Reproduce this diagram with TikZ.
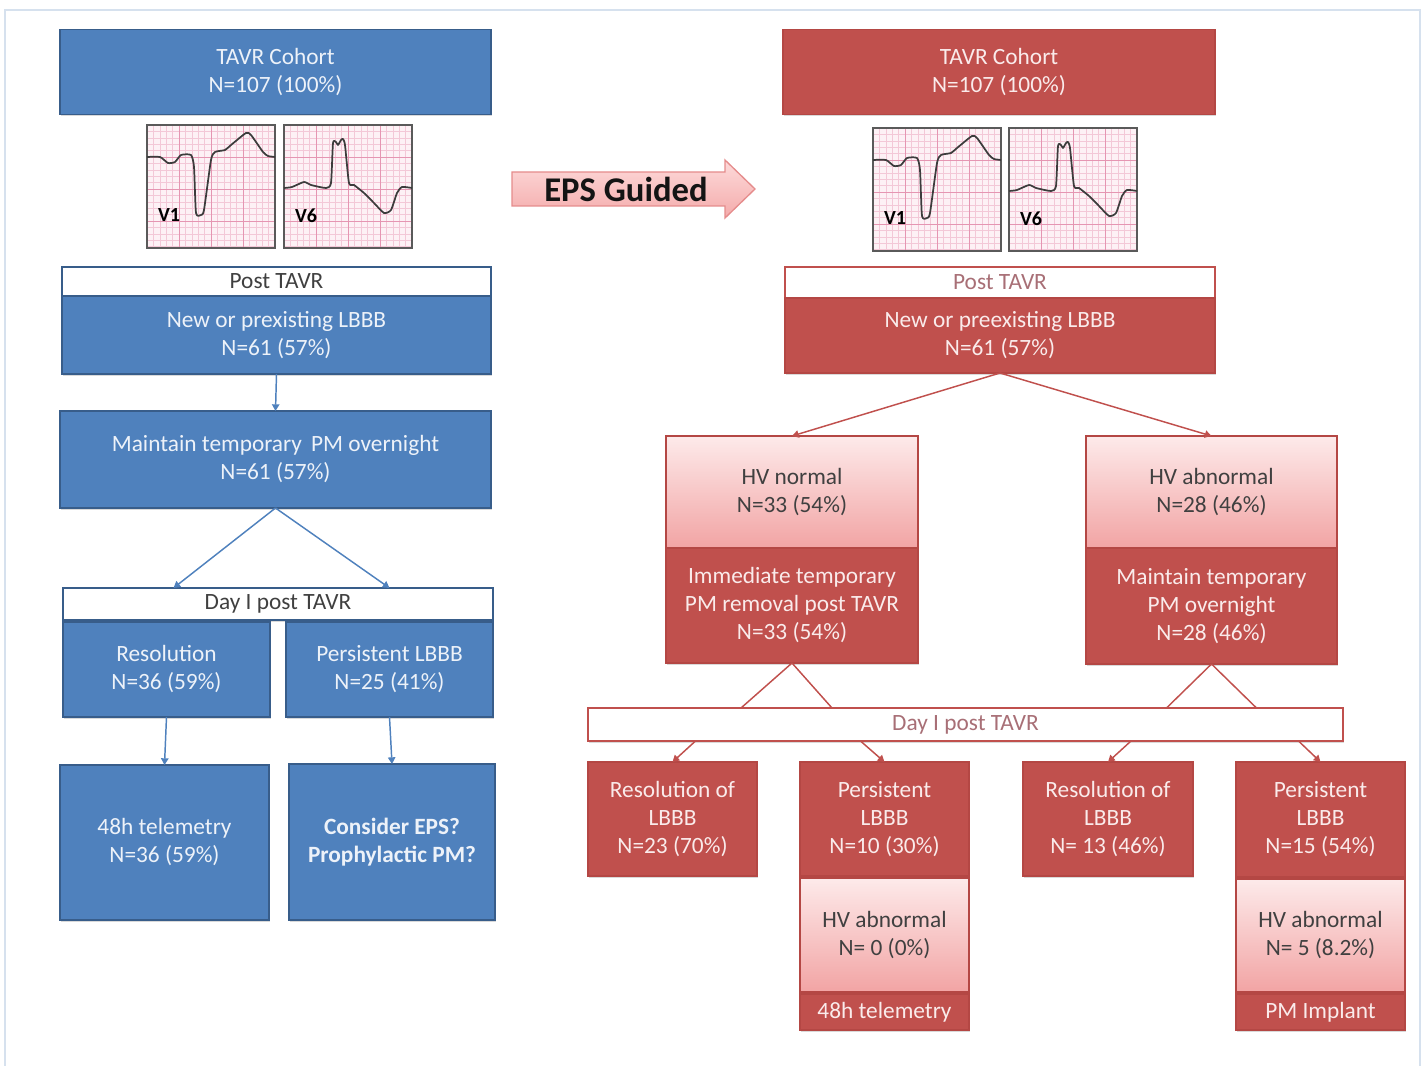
\documentclass[tikz,border=0pt]{standalone}
\usepackage{fontspec}
\setmainfont{Carlito}
\usetikzlibrary{arrows.meta,calc,shadows}

\definecolor{bluefill}{HTML}{4F81BD}
\definecolor{blueedge}{HTML}{385D8A}
\definecolor{bluetext}{HTML}{EDF2F9}
\definecolor{redfill}{HTML}{C0504D}
\definecolor{rededge}{HTML}{B44744}
\definecolor{redtext}{HTML}{FAEBEB}
\definecolor{hvtop}{HTML}{FDEAEA}
\definecolor{hvbottom}{HTML}{F2A4A4}
\definecolor{darktext}{HTML}{404040}
\definecolor{mauvetext}{HTML}{A86F76}
\definecolor{ecgpaper}{HTML}{FDF1F5}
\definecolor{ecgminor}{HTML}{F3C8D7}
\definecolor{ecgmajor}{HTML}{E596B2}
\definecolor{ecgframe}{HTML}{5A5A5A}
\definecolor{ecgtrace}{HTML}{3C3C3C}
\definecolor{frameline}{HTML}{D6E1EE}
\definecolor{epstop}{HTML}{FDDADA}
\definecolor{epsbottom}{HTML}{F4ABAB}
\definecolor{epsedge}{HTML}{E58C8C}

\tikzset{every picture/.style={line width=0.75pt}}

\tikzset{
  cell/.style args={#1/#2}{minimum width=#1*0.75pt, minimum height=#2*0.75pt},
  boxtext/.style={font=\fontsize{17.5}{21}\selectfont, align=center, inner sep=0pt, outer sep=0pt},
  boxshadow/.style={drop shadow={opacity=0.3, shadow xshift=0.8pt, shadow yshift=-1.5pt}},
  bluebox/.style={boxtext, boxshadow, draw=blueedge, fill=bluefill, text=bluetext, line width=1.2pt},
  bluehead/.style={boxtext, boxshadow, draw=blueedge, fill=white, text=darktext, line width=1.2pt},
  redbox/.style={boxtext, boxshadow, draw=rededge, fill=redfill, text=redtext, line width=1.2pt},
  redhead/.style={boxtext, boxshadow, draw=redfill, fill=white, text=mauvetext, line width=1.6pt},
  hvbox/.style={boxtext, boxshadow, draw=rededge, top color=hvtop, bottom color=hvbottom, text=darktext, line width=0.8pt},
  bluearrow/.style={draw=bluefill, line width=1.1pt, -{Triangle[length=5pt,width=5.5pt]}},
  redarrow/.style={draw=redfill, line width=1.1pt, -{Triangle[length=5pt,width=5.5pt]}},
  redline/.style={draw=redfill, line width=1.1pt},
  leadlabel/.style={font=\fontsize{15}{15}\selectfont\bfseries, text=black, inner sep=0pt},
  tracepen/.style={draw=ecgtrace, line width=1.3pt, line join=round},
  % pink ECG paper, 128 x 123, y downwards
  ecg paper/.pic={
    \begin{scope}[yscale=-1]
      \fill[ecgpaper] (0,0) rectangle (128,123);
      \foreach \k in {1,...,19} {
        \draw[ecgminor, line width=.35pt] (\k*6.4,0) -- (\k*6.4,123);
        \draw[ecgminor, line width=.35pt] (0,\k*6.4) -- (128,\k*6.4);
      }
      \foreach \k in {1,2,3} {
        \draw[ecgmajor, line width=.7pt] (\k*32,0) -- (\k*32,123);
        \draw[ecgmajor, line width=.7pt] (0,\k*32) -- (128,\k*32);
      }
      \draw[ecgframe, line width=1.4pt] (0,0) rectangle (128,123);
    \end{scope}
  },
  lead v1/.pic={
    \pic {ecg paper};
    \begin{scope}[yscale=-1]
      \draw[tracepen] plot[smooth, tension=.35] coordinates {(0,32) (13,32) (21,38) (28,37) (34,30) (44,30) (47,42) (49,88) (54,90) (57,85) (64,35) (68,27) (78,25) (84,20) (99,8) (104,10) (116,27) (121,31) (128,32)};
      \node[leadlabel] (tag) at (22,90) {V1};
    \end{scope}
  },
  lead v6/.pic={
    \pic {ecg paper};
    \begin{scope}[yscale=-1]
      \draw[tracepen] plot[smooth, tension=.35] coordinates {(0,63) (8,62) (20,57) (27,60) (42,63) (47,58) (49,18) (52,17) (54,20) (57,15) (59,14) (61,20) (65,58) (70,60) (80,68) (90,78) (100,88) (107,85) (113,68) (118,62) (128,63)};
      \node[leadlabel] (tag) at (22,91) {V6};
    \end{scope}
  }
}

\begin{document}
\begin{tikzpicture}[x=0.75pt,y=0.75pt,yscale=-1,xscale=1]
  \useasboundingbox (0,0) rectangle (1428,1066);
  % outer frame
  \draw[frameline, line width=1pt] (5,1066) -- (5,10) -- (1420,10) -- (1420,1066);

  %% standard pathway (blue)
  \node[bluebox, cell=431/85] (cohortL) at (275.5,72) {TAVR Cohort\\N=107 (100\%)};
  \pic (ecgLa) at (147,125) {lead v1};
  \pic (ecgLb) at (284,125) {lead v6};
  \node[bluehead, cell=429/29] (postL) at (276.5,281.5) {Post TAVR};
  \node[bluebox, cell=429/78] (newL) at (276.5,335) {New or prexisting LBBB\\N=61 (57\%)};
  \node[bluebox, cell=431/97] (maintL) at (275.5,459.5) {Maintain temporary\, PM overnight\\N=61 (57\%)};
  \node[bluehead, cell=430/32] (dayL) at (278,604) {Day I post TAVR};
  \node[bluebox, cell=207/95] (resL) at (166.5,669.5) {Resolution\\N=36 (59\%)};
  \node[bluebox, cell=207/95] (persL) at (389.5,669.5) {Persistent LBBB\\N=25 (41\%)};
  \node[bluebox, cell=209/155] (telL) at (164.5,842.5) {48h telemetry\\N=36 (59\%)};
  \node[bluebox, cell=206/156, font=\fontsize{17.5}{21}\selectfont\bfseries] (epsL) at (392,842) {Consider EPS?\\Prophylactic PM?};

  \draw[bluearrow] (newL.south) -- (maintL.north);
  \draw[bluearrow] (maintL.south) -- ($(dayL.north -| resL.north)+(7,0)$);
  \draw[bluearrow] (maintL.south) -- (dayL.north -| persL.north);
  \draw[bluearrow] (resL.south) -- (telL.north);
  \draw[bluearrow] (persL.south) -- (epsL.north);

  %% EPS guided arrow
  \path[draw=epsedge, line width=1pt, top color=epstop, bottom color=epsbottom]
    (512,172) -- (725,172) -- (725,160) -- (755,189) -- (725,218) -- (725,206) -- (512,206) -- cycle;
  \node[font=\fontsize{26}{26}\selectfont\bfseries, text=black!92, inner sep=0pt] (epsTag) at (626,189) {EPS Guided};

  %% EPS guided pathway (red)
  \node[redbox, cell=432/85] (cohortR) at (999,72) {TAVR Cohort\\N=107 (100\%)};
  \pic (ecgRa) at (873,128) {lead v1};
  \pic (ecgRb) at (1009,128) {lead v6};
  \node[redhead, cell=430/31] (postR) at (1000,282.5) {Post TAVR};
  \node[redbox, cell=430/75] (newR) at (1000,335.5) {New or preexisting LBBB\\N=61 (57\%)};

  \node[hvbox, cell=252/112] (hvN) at (792,492) {HV normal\\N=33 (54\%)};
  \node[redbox, cell=252/115] (immR) at (792,605.5) {Immediate temporary\\PM removal post TAVR\\N=33 (54\%)};
  \node[hvbox, cell=251/112] (hvA) at (1211.5,492) {HV abnormal\\N=28 (46\%)};
  \node[redbox, cell=251/116] (maintR) at (1211.5,606) {Maintain temporary\\PM overnight\\N=28 (46\%)};

  \node[redhead, cell=755/33] (dayR) at (965.5,724.5) {Day I post TAVR};

  \node[redbox, cell=169/114] (resA) at (672.5,819) {Resolution of\\LBBB\\N=23 (70\%)};
  \node[redbox, cell=169/114] (persA) at (884.5,819) {Persistent\\LBBB\\N=10 (30\%)};
  \node[redbox, cell=170/114] (resB) at (1108,819) {Resolution of\\LBBB\\N= 13 (46\%)};
  \node[redbox, cell=169/115] (persB) at (1320.5,819.5) {Persistent\\LBBB\\N=15 (54\%)};

  \node[hvbox, cell=169/114] (hvZ) at (884.5,935) {HV abnormal\\N= 0 (0\%)};
  \node[redbox, cell=169/36] (telR) at (884.5,1012) {48h telemetry};
  \node[hvbox, cell=169/113] (hvF) at (1320.5,935.5) {HV abnormal\\N= 5 (8.2\%)};
  \node[redbox, cell=169/36] (pmR) at (1320.5,1012) {PM Implant};

  \draw[redarrow] (newR.south) -- (hvN.north);
  \draw[redarrow] (newR.south) -- (hvA.north);
  \draw[redline] (immR.south) -- ($(dayR.north -| immR.south)+(-51,0)$);
  \draw[redline] (immR.south) -- ($(dayR.north -| immR.south)+(40,0)$);
  \draw[redline] (maintR.south) -- ($(dayR.north -| maintR.south)+(-45,0)$);
  \draw[redline] (maintR.south) -- ($(dayR.north -| maintR.south)+(45,0)$);
  \draw[redarrow] ($(dayR.south -| resA.north)+(23,0)$) -- (resA.north);
  \draw[redarrow] ($(dayR.south -| persA.north)+(-24,0)$) -- (persA.north);
  \draw[redarrow] ($(dayR.south -| resB.north)+(23,0)$) -- (resB.north);
  \draw[redarrow] ($(dayR.south -| persB.north)+(-22,0)$) -- (persB.north);
\end{tikzpicture}
\end{document}
